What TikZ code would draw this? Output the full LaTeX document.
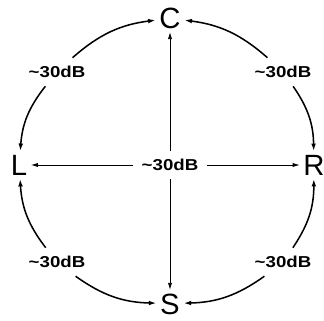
\documentclass[tikz,border=0pt]{standalone}
\usepackage{fontspec}
\setmainfont{Liberation Sans}
\newfontfamily\lblfont[FakeStretch=1.18]{Liberation Sans}
\usetikzlibrary{
    arrows.meta,
    positioning
}
\tikzset{
  chan/.style    = {font=\fontsize{25}{28}\selectfont, inner sep=3pt},
  lvl/.style     = {font=\lblfont\bfseries\fontsize{13.5}{15}\selectfont, inner sep=7pt},
  arr/.style     = {-{Latex[length=6pt,width=3.6pt]}, line width=0.7pt},
  arrc/.style    = {-{Latex[length=6.5pt,width=4pt]}, line width=1.3pt}
}

\begin{document}
\begin{tikzpicture}[x=0.03cm,y=0.03cm]
\useasboundingbox (0,0) rectangle (324,321);
% loudspeaker channels
\node[chan] (C) at (170,303) {C};
\node[chan] (L) at (19,156) {L};
\node[chan] (R) at (314,156) {R};
\node[chan] (S) at (170,17) {S};
% crosstalk levels
\node[lvl] (lCL) at (57,249) {\textasciitilde 30dB};
\node[lvl] (lCR) at (283,249) {\textasciitilde 30dB};
\node[lvl] (lLS) at (57,59) {\textasciitilde 30dB};
\node[lvl] (lRS) at (283,59) {\textasciitilde 30dB};
\node[lvl] (lmid) at (170,156) {\textasciitilde 30dB};
% outer ring
\draw[arrc] (lCL) to[bend left=17] (C);
\draw[arrc] (lCL) to[bend right=17] (L);
\draw[arrc] (lCR) to[bend right=17] (C);
\draw[arrc] (lCR) to[bend left=17] (R);
\draw[arrc] (lLS) to[bend left=17] (L);
\draw[arrc] (lLS) to[bend right=17] (S);
\draw[arrc] (lRS) to[bend right=17] (R);
\draw[arrc] (lRS) to[bend left=17] (S);
% cross
\draw[arr] (lmid) -- (C);
\draw[arr] (lmid) -- (S);
\draw[arr] (lmid) -- (L);
\draw[arr] (lmid) -- (R);
\end{tikzpicture}
\end{document}
